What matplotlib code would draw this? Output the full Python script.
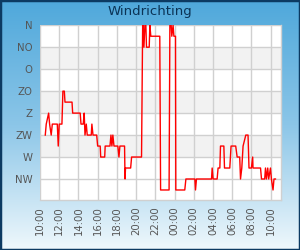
import numpy as np
import pandas as pd
import matplotlib
matplotlib.use("Agg")
import matplotlib.pyplot as plt
import matplotlib.dates as mdates
from matplotlib.colors import LinearSegmentedColormap
from matplotlib.patches import Rectangle

# Wind direction readings (degrees, 0 = N) over roughly one day
times = ["10:33", "10:39", "10:54", "11:00", "11:10", "11:17", "11:48", "11:54",
         "12:00", "12:17", "12:23", "12:32", "12:36", "13:20", "13:24", "14:11",
         "14:16", "14:30", "14:36", "14:41", "14:49", "14:55", "15:20", "15:24",
         "15:31", "15:54", "16:00", "16:16", "16:19", "16:44", "16:47", "17:17",
         "17:23", "17:29", "17:35", "17:42", "18:06", "18:13", "18:19", "18:48",
         "18:51", "18:54", "19:26", "19:32", "20:34", "20:41", "20:44", "20:49",
         "20:55", "21:01", "21:05", "21:22", "21:26", "21:32", "22:28", "22:33",
         "23:26", "23:31", "23:39", "23:43", "23:51", "23:56", "00:06", "00:08",
         "01:04", "01:11", "02:07", "02:11", "02:17", "03:51", "03:55", "04:01",
         "04:26", "04:32", "04:43", "04:47", "05:08", "05:12", "05:45", "05:53",
         "06:22", "06:31", "06:47", "06:52", "07:00", "07:08", "07:25", "07:39",
         "07:45", "08:00", "08:08", "08:10", "08:57", "09:03", "09:23", "09:28",
         "09:34", "09:42", "09:48", "09:59", "10:05", "10:15", "10:21", "10:30"]
directions = [225, 202.5, 180, 202.5, 225, 202.5, 202.5, 247.5,
              202.5, 202.5, 135, 135, 157.5, 157.5, 180, 180,
              202.5, 202.5, 180, 225, 202.5, 225, 225, 202.5,
              225, 225, 247.5, 247.5, 270, 270, 247.5, 247.5,
              225, 247.5, 225, 247.5, 247.5, 270, 247.5, 247.5,
              315, 292.5, 292.5, 270, 270, 0, 0, 45,
              0, 0, 45, 45, 0, 22.5, 22.5, 337.5,
              337.5, 0, 0, 22.5, 0, 22.5, 22.5, 337.5,
              337.5, 315, 315, 337.5, 315, 315, 292.5, 315,
              315, 292.5, 292.5, 247.5, 247.5, 292.5, 292.5, 247.5,
              247.5, 270, 270, 315, 292.5, 247.5, 225, 225,
              292.5, 292.5, 270, 292.5, 292.5, 315, 315, 292.5,
              315, 292.5, 315, 292.5, 315, 337.5, 315, 315]

compass_labels = ["N", "NO", "O", "ZO", "Z", "ZW", "W", "NW"]
compass_degrees = [0, 45, 90, 135, 180, 225, 270, 315]

# build timestamps, rolling over to the next day after midnight
stamps = []
day = pd.Timestamp("2024-01-01")
prev = None
for t in times:
    ts = pd.Timestamp(f"{day.date()} {t}")
    if prev is not None and ts < prev:
        day = day + pd.Timedelta(days=1)
        ts = pd.Timestamp(f"{day.date()} {t}")
    stamps.append(ts)
    prev = ts

fig = plt.figure(figsize=(3, 2.5), dpi=100)

# gradient background with dark border
bg = fig.add_axes([0, 0, 1, 1])
cmap = LinearSegmentedColormap.from_list("bg", ["#4fa8db", "#8cc6e8", "#eff8fc"])
bg.imshow(np.linspace(0, 1, 256).reshape(-1, 1), aspect="auto", cmap=cmap,
          extent=[0, 1, 0, 1])
bg.add_patch(Rectangle((0, 0), 1, 1, transform=bg.transAxes, fill=False,
                       edgecolor="#0c3a62", linewidth=2.5))
bg.set_xlim(0, 1)
bg.set_ylim(0, 1)
bg.axis("off")

ax = fig.add_axes([0.1333, 0.202, 0.8024, 0.697])
ax.set_facecolor("white")

start = pd.Timestamp("2024-01-01 10:00")
end = start + pd.Timedelta(hours=25.05)

# alternating bands
for lo in [45, 135, 225]:
    ax.axhspan(lo, lo + 45, color="#f2f2f2", zorder=0, lw=0)

ax.plot(stamps, directions, color="#ff0000", linewidth=1.0, zorder=3)

ax.set_ylim(357, 0)
ax.set_xlim(start, end)
ax.set_yticks(compass_degrees)
ax.set_yticklabels(compass_labels)
ax.xaxis.set_major_locator(mdates.HourLocator(byhour=range(0, 24, 2)))
ax.xaxis.set_major_formatter(mdates.DateFormatter("%H:%M"))
for lbl in ax.get_xticklabels():
    lbl.set_rotation(90)

ax.grid(True, color="#d0d0d0", linewidth=1)
ax.set_axisbelow(True)
ax.tick_params(axis="both", length=0, labelsize=7.3, colors="#555555")
ax.tick_params(axis="y", pad=5.5)
ax.tick_params(axis="x", pad=5)
for s in ax.spines.values():
    s.set_color("#d0d0d0")
    s.set_linewidth(1)
ax.spines["top"].set_visible(False)
ax.spines["left"].set_visible(False)

fig.text(0.5, 0.952, "Windrichting", ha="center", va="center",
         fontsize=9.5, color="#0b3355")

fig.savefig("out.png", dpi=100)
